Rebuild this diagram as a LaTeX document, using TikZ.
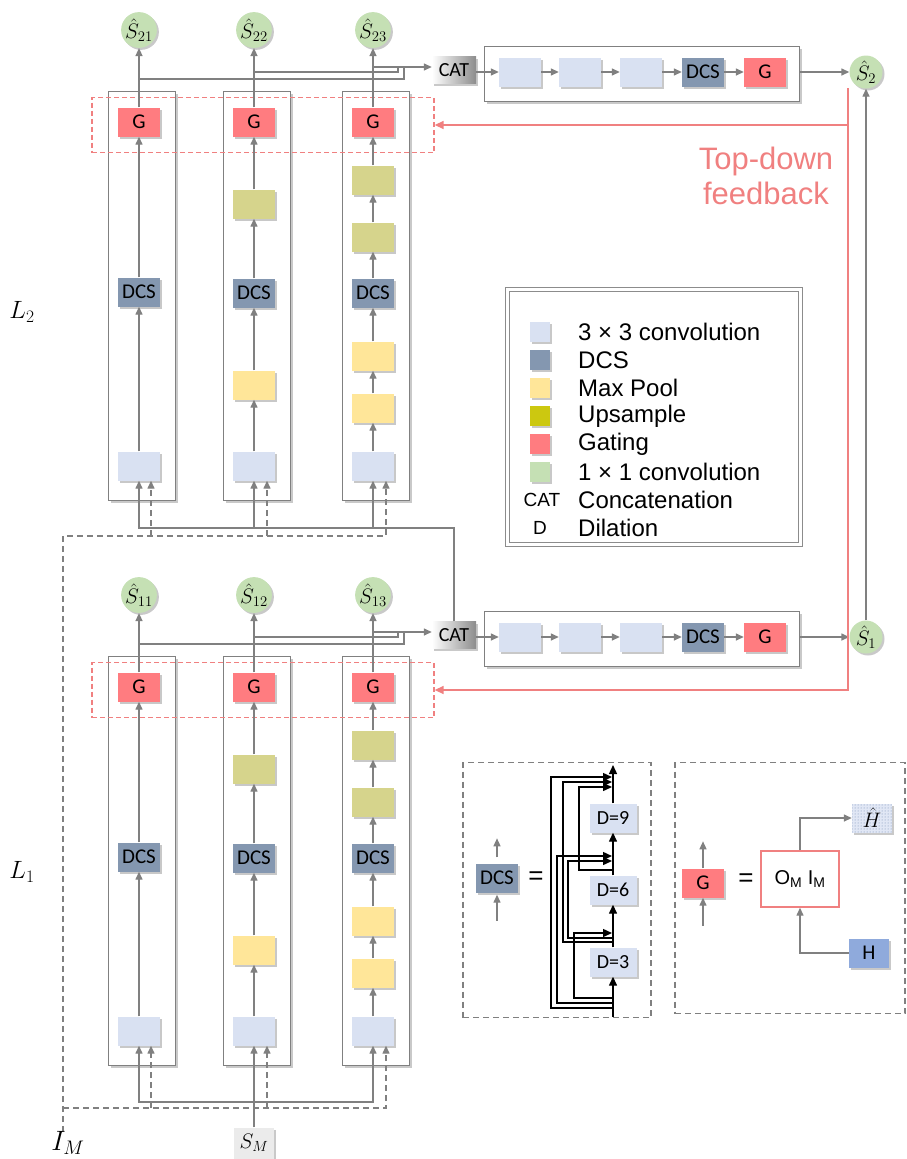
\RequirePackage{fix-cm}
\documentclass[tikz,border=0pt]{standalone}
\usepackage{amsmath}
\usepackage[no-math]{fontspec}
\setmainfont{Liberation Sans}
\newfontfamily\calfont{Carlito}
\usetikzlibrary{arrows.meta}
\usetikzlibrary{shadows}
\usetikzlibrary{patterns}

\definecolor{convc}{RGB}{217,225,242}
\definecolor{dcsc}{RGB}{132,151,176}
\definecolor{poolc}{RGB}{255,230,153}
\definecolor{upc}{RGB}{214,212,140}
\definecolor{upleg}{RGB}{204,200,16}
\definecolor{gatec}{RGB}{255,124,128}
\definecolor{onec}{RGB}{197,224,180}
\definecolor{hc}{RGB}{143,170,220}
\definecolor{linec}{RGB}{128,128,128}
\definecolor{fbc}{RGB}{240,128,128}

\tikzset{
  shade/.style={drop shadow={shadow xshift=2pt,shadow yshift=-2pt,opacity=.3,fill=black!70}},
  colframe/.style={draw=linec,line width=1.8pt,fill=white,shade},
  fbbox/.style={draw=fbc,line width=1.3pt,dash pattern=on 5pt off 3pt},
  block/.style={rectangle,minimum width=42,minimum height=29,inner sep=0pt,
    font=\calfont\fontsize{21}{23}\selectfont,shade},
  conv/.style={block,fill=convc},
  dcs/.style={block,fill=dcsc},
  pool/.style={block,fill=poolc},
  upsmp/.style={block,fill=upc},
  gate/.style={block,fill=gatec},
  dblock/.style={block,fill=convc,minimum width=47,font=\calfont\fontsize{20}{22}\selectfont},
  hblock/.style={block,fill=hc,minimum width=40,minimum height=29},
  hhat/.style={block,minimum width=40,minimum height=29,preaction={fill=convc!80},
    pattern=dots,pattern color=hc!80!black,font=\fontsize{21}{23}\selectfont},
  shat/.style={circle,fill=onec,minimum size=33,inner sep=0pt,shade,
    font=\fontsize{21}{23}\selectfont},
  catbox/.style={block,left color=white,right color=black!45,minimum width=44,minimum height=27,
    font=\calfont\fontsize{20}{22}\selectfont},
  smbox/.style={block,fill=black!8,minimum width=40,minimum height=31,font=\fontsize{21}{23}\selectfont},
  gline/.style={draw=linec,line width=1.4pt},
  garrow/.style={gline,-{Triangle[length=8pt,width=7pt]}},
  darrow/.style={garrow,dash pattern=on 6pt off 4pt},
  barrow/.style={draw=black,line width=1.4pt,-{Triangle[length=9pt,width=8pt]}},
  fbarrow/.style={draw=fbc,line width=1.4pt,-{Triangle[length=9pt,width=8pt]}},
  legbox/.style={draw=black!45,double=white,double distance=2.5pt,line width=.8pt,fill=white},
  swatch/.style={rectangle,minimum size=20,inner sep=0pt,shade},
  legtext/.style={anchor=west,inner sep=0pt,font=\fontsize{24}{26}\selectfont},
  detbox/.style={draw=linec,line width=1.3pt,dash pattern=on 6pt off 4pt},
  eqtext/.style={font=\fontsize{26}{28}\selectfont},
  ombox/.style={draw=fbc,line width=1.4pt,fill=white,minimum width=78,minimum height=56,
    font=\fontsize{20}{22}\selectfont},
  lab/.style={font=\fontsize{25}{27}\selectfont},
  fbtext/.style={align=center,text=fbc,font=\fontsize{31}{35}\selectfont}
}

\begin{document}
\begin{tikzpicture}[x=1pt,y=-1pt]
\useasboundingbox (0,0) rectangle (907,1159);

% two layers, L2 on top and L1 below
\foreach \L/\yo in {2/0,1/565}{
  \node[colframe,minimum width=67,minimum height=409] (cf\L1) at (142,296+\yo) {};
  \node[colframe,minimum width=67,minimum height=409] (cf\L2) at (257,296+\yo) {};
  \node[colframe,minimum width=67,minimum height=409] (cf\L3) at (376,296+\yo) {};
  \node[fbbox,minimum width=342,minimum height=55] (rb\L) at (263,125+\yo) {};
  % column 1
  \node[conv] (cv\L1) at (139,466+\yo) {};
  \node[dcs] (dc\L1) at (139,292+\yo) {DCS};
  \node[gate] (g\L1) at (139,122+\yo) {G};
  % column 2
  \node[conv] (cv\L2) at (254,466+\yo) {};
  \node[pool] (mp\L2) at (254,385+\yo) {};
  \node[dcs] (dc\L2) at (254,293+\yo) {DCS};
  \node[upsmp] (up\L2) at (254,204+\yo) {};
  \node[gate] (g\L2) at (254,122+\yo) {G};
  % column 3
  \node[conv] (cv\L3) at (373,466+\yo) {};
  \node[pool] (mpa\L3) at (373,408+\yo) {};
  \node[pool] (mpb\L3) at (373,356+\yo) {};
  \node[dcs] (dc\L3) at (373,293+\yo) {DCS};
  \node[upsmp] (upa\L3) at (373,237+\yo) {};
  \node[upsmp] (upb\L3) at (373,180+\yo) {};
  \node[gate] (g\L3) at (373,122+\yo) {G};
  \draw[garrow] (cv\L1) -- (dc\L1);
  \draw[garrow] (dc\L1) -- (g\L1);
  \draw[garrow] (cv\L2) -- (mp\L2);
  \draw[garrow] (mp\L2) -- (dc\L2);
  \draw[garrow] (dc\L2) -- (up\L2);
  \draw[garrow] (up\L2) -- (g\L2);
  \draw[garrow] (cv\L3) -- (mpa\L3);
  \draw[garrow] (mpa\L3) -- (mpb\L3);
  \draw[garrow] (mpb\L3) -- (dc\L3);
  \draw[garrow] (dc\L3) -- (upa\L3);
  \draw[garrow] (upa\L3) -- (upb\L3);
  \draw[garrow] (upb\L3) -- (g\L3);
  \coordinate (df\L1) at ([xshift=12pt]cv\L1.south);
  \coordinate (df\L2) at ([xshift=13pt]cv\L2.south);
  \coordinate (df\L3) at ([xshift=13pt]cv\L3.south);
  % side outputs
  \node[shat] (s\L1) at (139,30+\yo) {$\hat{S}_{\L1}$};
  \node[shat] (s\L2) at (254,30+\yo) {$\hat{S}_{\L2}$};
  \node[shat] (s\L3) at (373,30+\yo) {$\hat{S}_{\L3}$};
  \draw[garrow] (g\L1) -- (s\L1);
  \draw[garrow] (g\L2) -- (s\L2);
  \draw[garrow] (g\L3) -- (s\L3);
  % concatenation
  \node[catbox] (cat\L) at (454,70+\yo) {CAT};
  \coordinate (ka\L) at (398,67+\yo);
  \coordinate (kb\L) at (404,67+\yo);
  \coordinate (kc\L) at (254,72+\yo);
  \coordinate (kd\L) at (139,79+\yo);
  \draw[garrow] (s\L3 |- ka\L) -- (cat\L.west |- ka\L);
  \draw[gline] (kc\L) -| (ka\L);
  \draw[gline] (kd\L) -| (kb\L);
  % fusion branch
  \node[colframe,minimum width=315,minimum height=55] (pp\L) at (642,74+\yo) {};
  \node[conv] (pa\L) at (520,72+\yo) {};
  \node[conv] (pb\L) at (580,72+\yo) {};
  \node[conv] (pc\L) at (641,72+\yo) {};
  \node[dcs] (pd\L) at (703,72+\yo) {DCS};
  \node[gate] (pg\L) at (765,72+\yo) {G};
  \node[shat] (so\L) at (866,72+\yo) {$\hat{S}_{\L}$};
  \draw[garrow] (cat\L.east |- pa\L) -- (pa\L);
  \draw[garrow] (pa\L) -- (pb\L);
  \draw[garrow] (pb\L) -- (pc\L);
  \draw[garrow] (pc\L) -- (pd\L);
  \draw[garrow] (pd\L) -- (pg\L);
  \draw[garrow] (pp\L.east |- pg\L) -- (so\L);
}
\draw[garrow] (so1) -- (so2);

% top-down feedback
\coordinate (fb) at (848,88);
\draw[fbarrow] (fb) |- (rb1.east);
\draw[fbarrow] (fb |- rb2.east) -- (rb2.east);
\node[fbtext] (fbt) at (766,176) {Top-down\\feedback};

% L1 output feeds L2
\coordinate (upj) at (454,528);
\draw[garrow] (cat1.north) -- (upj) -| (cv21);
\draw[garrow] (upj -| cv22) -- (cv22);
\draw[garrow] (upj -| cv23) -- (cv23);

% image input
\coordinate (imlow) at (63,1132);
\coordinate (imtop) at (63,536);
\coordinate (imbot) at (63,1108);
\draw[darrow] (imlow) -- (imtop) -| (df23);
\draw[darrow] (imtop -| df21) -- (df21);
\draw[darrow] (imtop -| df22) -- (df22);
\draw[darrow] (imbot) -| (df13);
\draw[darrow] (imbot -| df11) -- (df11);
\draw[darrow] (imbot -| df12) -- (df12);

% saliency input
\node[smbox] (sm) at (254,1143) {$S_M$};
\coordinate (smj) at (254,1102);
\draw[garrow] (sm) -- (cv12);
\draw[garrow] (smj) -| (cv11);
\draw[garrow] (smj) -| (cv13);

\node[lab] (l2) at (22,312) {$L_2$};
\node[lab] (l1) at (22,872) {$L_1$};
\node[lab,font=\fontsize{28}{30}\selectfont] (im) at (68,1143) {$I_M$};

% legend
\node[legbox,minimum width=293,minimum height=255] (leg) at (654,417) {};
\foreach \i/\c/\t in {0/convc/3 × 3 convolution,1/dcsc/DCS,2/poolc/Max Pool,
    3/upleg/Upsample,4/gatec/Gating,5/onec/1 × 1 convolution}{
  \node[swatch,fill=\c] (sw\i) at (540,332+28*\i) {};
  \node[legtext] (lt\i) at (578,332+28*\i) {\t};
}
\node[font=\fontsize{19}{21}\selectfont] (lcat) at (542,500) {CAT};
\node[legtext] (lt6) at (578,500) {Concatenation};
\node[font=\fontsize{19}{21}\selectfont] (ld) at (540,528) {D};
\node[legtext] (lt7) at (578,528) {Dilation};

% DCS detail
\node[detbox,minimum width=188,minimum height=255] (dbox) at (557,890) {};
\node[dcs] (dcx) at (497,878) {DCS};
\draw[garrow] ([yshift=6pt]dcx.north) -- ([yshift=25pt]dcx.north);
\draw[garrow] ([yshift=-28pt]dcx.south) -- ([yshift=-2pt]dcx.south);
\node[eqtext] (eq1) at (536,878) {=};
\node[dblock] (d9) at (613,818) {D=9};
\node[dblock] (d6) at (613,890) {D=6};
\node[dblock] (d3) at (613,962) {D=3};
\coordinate (din) at (613,1017);
\coordinate (dout) at (613,765);
\draw[barrow] (din) -- (d3);
\draw[barrow] (d3) -- (d6);
\draw[barrow] (d6) -- (d9);
\draw[barrow] (d9) -- (dout);
\foreach \ty/\sx/\my in {1008/551/777,1003/557/856,998/574/933,942/563/782,938/568/861,870/579/787}
  \draw[barrow] (613,\ty) -- (\sx,\ty) -- (\sx,\my) -- (612,\my);

% gating detail
\node[detbox,minimum width=230,minimum height=251] (gdet) at (790,888) {};
\node[gate] (gx) at (703,883) {G};
\draw[garrow] (gx.north) -- ([yshift=27pt]gx.north);
\draw[garrow] ([yshift=-28pt]gx.south) -- (gx.south);
\node[eqtext] (eq2) at (746,880) {=};
\node[ombox] (om) at (800,879) {O\textsubscript{M} I\textsubscript{M}};
\node[hhat] (hh) at (872,818) {$\hat{H}$};
\node[hblock] (hb) at (869,953) {H};
\draw[garrow] (om) |- (hh);
\draw[garrow] (hb) -| (om);
\end{tikzpicture}
\end{document}
